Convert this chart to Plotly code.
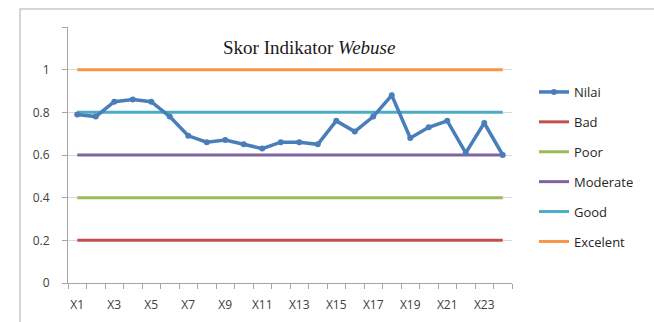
import plotly.graph_objects as go

# Indicator categories X1..X24
categories = ["X1", "X2", "X3", "X4", "X5", "X6", "X7", "X8", "X9", "X10", "X11", "X12",
              "X13", "X14", "X15", "X16", "X17", "X18", "X19", "X20", "X21", "X22", "X23", "X24"]

# Score per indicator
nilai = [0.79, 0.78, 0.85, 0.86, 0.85, 0.78, 0.69, 0.66, 0.67, 0.65, 0.63, 0.66,
         0.66, 0.65, 0.76, 0.71, 0.78, 0.88, 0.68, 0.73, 0.76, 0.61, 0.75, 0.60]

# Threshold levels (constant across indicators)
bad = [0.2] * 24
poor = [0.4] * 24
moderate = [0.6] * 24
good = [0.8] * 24
excelent = [1.0] * 24

y_ticks = [0, 0.2, 0.4, 0.6, 0.8, 1.0, 1.2]
y_ticktext = ["0", "0.2", "0.4", "0.6", "0.8", "1", ""]

thresholds = [
    ("Bad", bad, "#C0504D"),
    ("Poor", poor, "#9BBB59"),
    ("Moderate", moderate, "#8064A2"),
    ("Good", good, "#4BACC6"),
    ("Excelent", excelent, "#F79646"),
]

fig = go.Figure()

for rank, (name, vals, color) in enumerate(thresholds, start=2):
    fig.add_trace(go.Scatter(
        x=categories, y=vals, name=name, mode="lines",
        line=dict(color=color, width=3), legendrank=rank, legendgroup=name,
    ))

fig.add_trace(go.Scatter(
    x=categories, y=nilai, name="Nilai", mode="lines+markers",
    line=dict(color="#4A7EBB", width=3.5),
    marker=dict(size=6, color="#4A7EBB"),
    legendrank=1, legendgroup="Nilai",
))

L, R, T, B = 68, 142, 27, 39
W, H = 654, 322
pw, ph = W - L - R, H - T - B

fig.update_layout(
    width=W, height=H,
    margin=dict(l=L, r=R, t=T, b=B),
    paper_bgcolor="white", plot_bgcolor="white",
    font=dict(family="Open Sans, Liberation Sans, sans-serif", size=12, color="#404040"),
    showlegend=True,
    legend=dict(
        x=(534 - L) / pw, y=(H - B - 77) / ph, xanchor="left", yanchor="top",
        font=dict(size=13, color="#262626"),
        tracegroupgap=10, itemwidth=30,
        bgcolor="rgba(0,0,0,0)",
    ),
    annotations=[dict(
        text="Skor Indikator <i>Webuse</i>",
        xref="paper", yref="paper",
        x=(309 - L) / pw, y=(H - B - 47) / ph,
        xanchor="center", yanchor="middle", showarrow=False,
        font=dict(family="Liberation Serif, DejaVu Serif, serif", size=19, color="#1a1a1a"),
    )],
    shapes=[dict(
        type="rect", xref="paper", yref="paper", layer="below",
        x0=(20 - L) / pw, x1=(700 - L) / pw,
        y0=(H - B - 400) / ph, y1=(H - B - 9) / ph,
        line=dict(color="#c8c8c8", width=1.5), fillcolor="rgba(0,0,0,0)",
    )],
)

fig.update_xaxes(
    type="category", categoryorder="array", categoryarray=categories,
    range=[-0.5, len(categories) - 0.5], automargin=False,
    tickmode="array", tickvals=categories,
    ticktext=[c if i % 2 == 0 else "" for i, c in enumerate(categories)],
    tickangle=0, ticklabelstandoff=11,
    tickson="boundaries", ticks="outside", ticklen=5, tickcolor="#a6a6a6",
    showline=True, linecolor="#a6a6a6", linewidth=1,
    showgrid=False, zeroline=False,
    tickfont=dict(size=12, color="#404040"),
)

fig.update_yaxes(
    range=[0, 1.2], tickmode="array", tickvals=y_ticks, ticktext=y_ticktext,
    automargin=False,
    ticks="outside", ticklen=5, tickcolor="#a6a6a6", ticklabelstandoff=10,
    showline=True, linecolor="#a6a6a6", linewidth=1,
    showgrid=True, gridcolor="#d9d9d9", gridwidth=1,
    zeroline=False,
    tickfont=dict(size=12, color="#404040"),
)

fig.write_html("out.html")
